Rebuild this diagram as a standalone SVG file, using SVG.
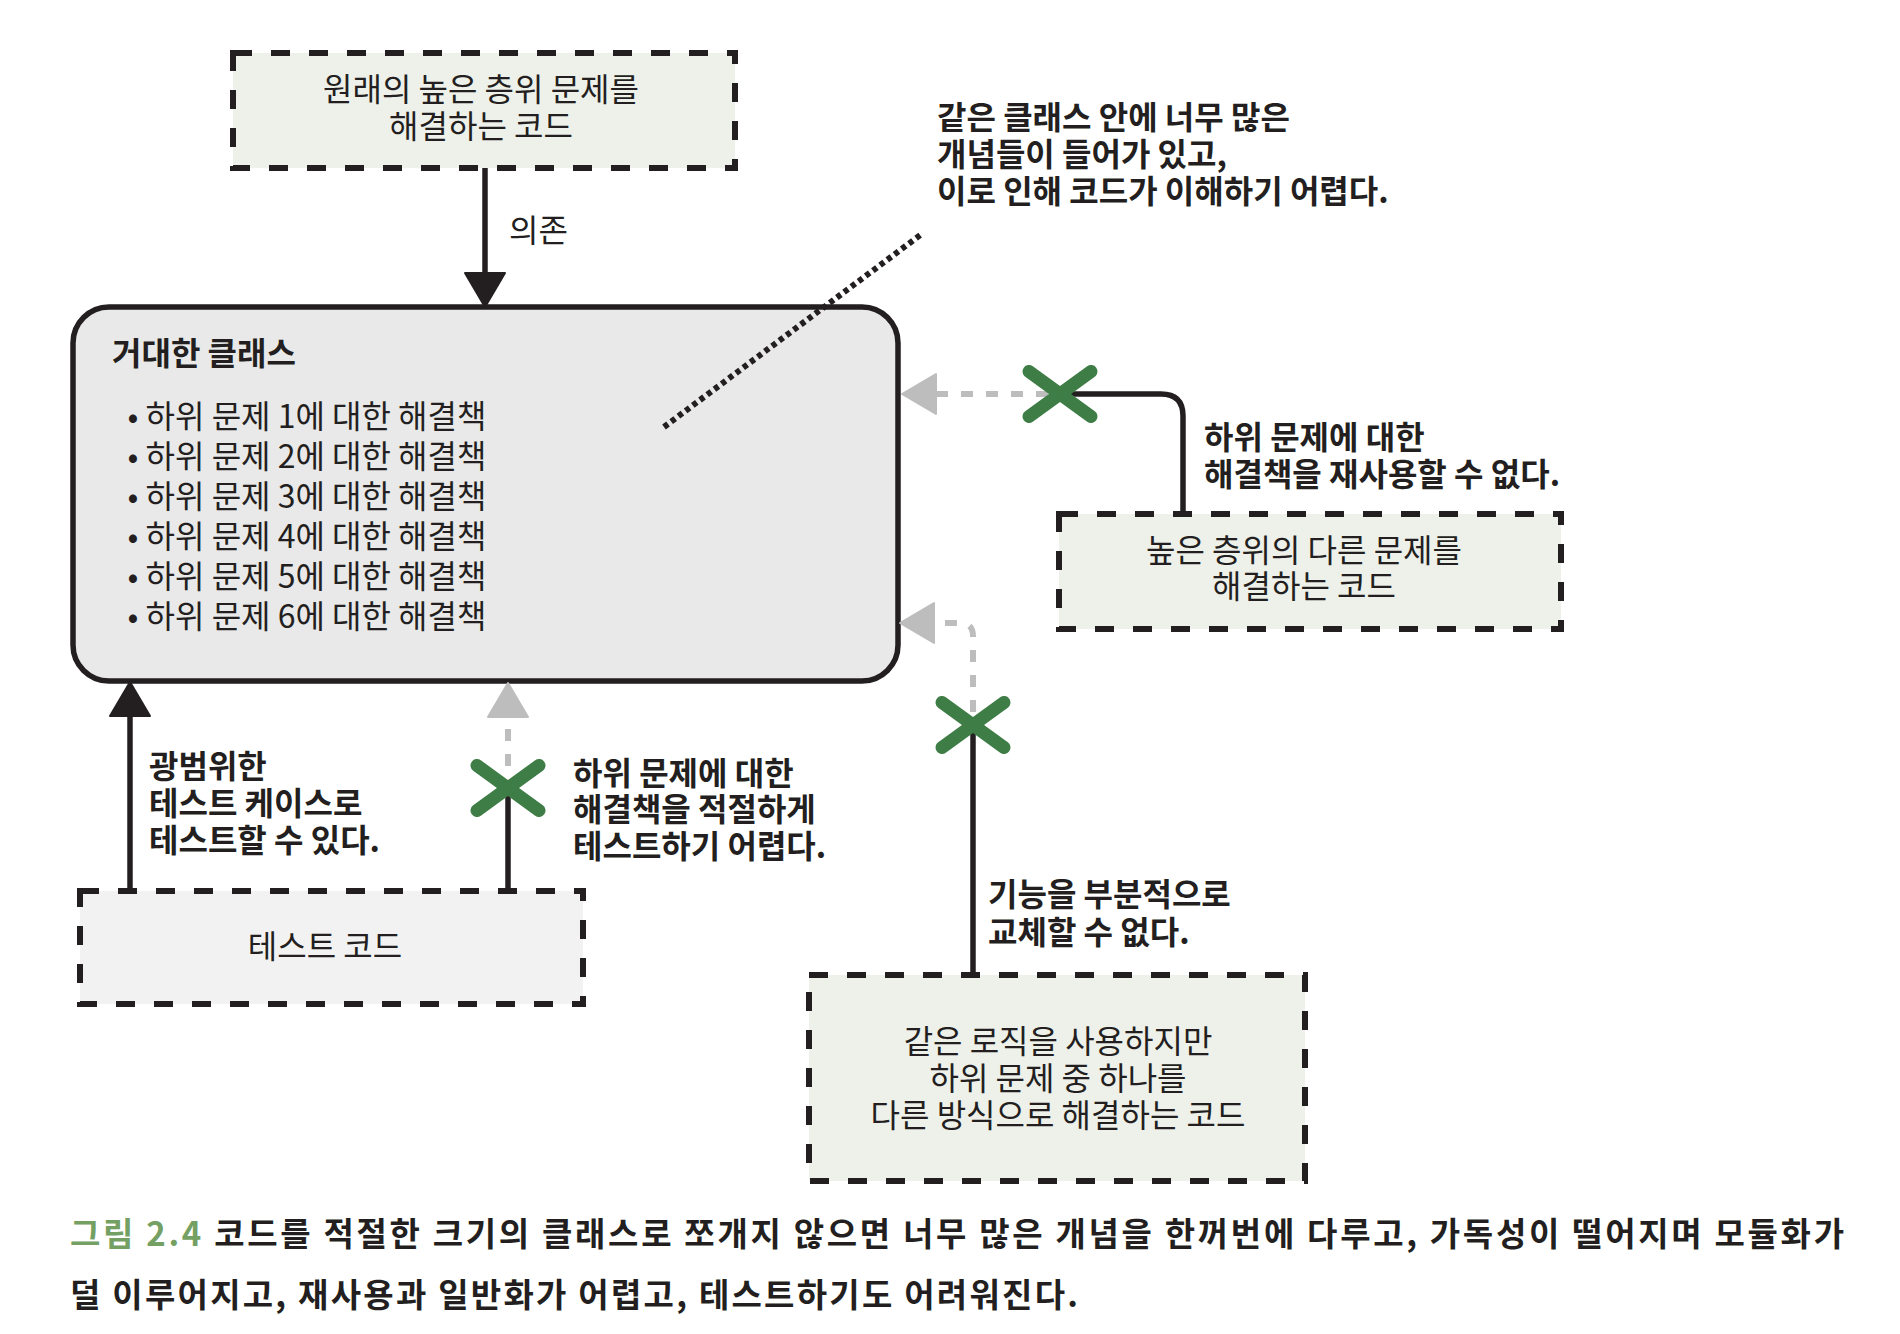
<svg xmlns="http://www.w3.org/2000/svg" xmlns:xlink="http://www.w3.org/1999/xlink" width="1900" height="1334" viewBox="0 0 1900 1334">
<style>
text{font-family:"Noto Sans CJK KR","Noto Sans",sans-serif;fill:#231f20}
.r{font-size:32px;font-weight:400}
.li{font-size:32px;font-weight:400}
.b{font-size:32px;font-weight:700}
.cap{font-size:33px;font-weight:700}
.mid{text-anchor:middle}
.dbox{stroke:#231f20;stroke-width:6;stroke-dasharray:19 19}
.g1{fill:#eef0ea}
.g2{fill:#f2f2f2}
.ln{fill:none;stroke:#231f20;stroke-width:5.5}
.gl{fill:none;stroke:#bdbdbd;stroke-width:6;stroke-dasharray:12 13}
.dot{fill:none;stroke:#231f20;stroke-width:6;stroke-dasharray:5 4}
</style>
<defs>
<marker id="ab" markerUnits="userSpaceOnUse" markerWidth="40" markerHeight="44" refX="0" refY="20" orient="auto" overflow="visible">
<path d="M0,0 L34,20 L0,40 Z" fill="#231f20" stroke="#231f20" stroke-width="2" stroke-linejoin="round"/>
</marker>
<marker id="ag" markerUnits="userSpaceOnUse" markerWidth="40" markerHeight="44" refX="0" refY="20" orient="auto" overflow="visible">
<path d="M0,0 L34,20 L0,40 Z" fill="#bdbdbd" stroke="#bdbdbd" stroke-width="2" stroke-linejoin="round"/>
</marker>
<g id="xm" stroke="#3e7d46" stroke-width="13" stroke-linecap="round">
<line x1="-31" y1="-22.5" x2="31" y2="22.5"/>
<line x1="-31" y1="22.5" x2="31" y2="-22.5"/>
</g>
</defs>
<rect width="1900" height="1334" fill="#ffffff"/>

<g id="node-top">
<rect class="dbox g1" x="233" y="53" width="502" height="115"/>
<text class="r mid"><tspan x="481" y="101">원래의 높은 층위 문제를</tspan><tspan x="481" y="138">해결하는 코드</tspan></text>
</g>

<g id="node-big">
<rect x="73" y="307" width="825" height="374" rx="36" fill="#e9e9e9" stroke="#231f20" stroke-width="5.5"/>
<text class="b" x="112" y="365">거대한 클래스</text>
<text class="li mid"><tspan x="307" y="428">• 하위 문제 1에 대한 해결책</tspan><tspan x="307" y="468">• 하위 문제 2에 대한 해결책</tspan><tspan x="307" y="508">• 하위 문제 3에 대한 해결책</tspan><tspan x="307" y="548">• 하위 문제 4에 대한 해결책</tspan><tspan x="307" y="588">• 하위 문제 5에 대한 해결책</tspan><tspan x="307" y="628">• 하위 문제 6에 대한 해결책</tspan></text>
</g>

<g id="node-other">
<rect class="dbox g1" x="1059" y="514" width="502" height="115"/>
<text class="r mid"><tspan x="1304" y="562">높은 층위의 다른 문제를</tspan><tspan x="1304" y="598">해결하는 코드</tspan></text>
</g>

<g id="node-test">
<rect class="dbox g2" x="80" y="891" width="503" height="113"/>
<text class="r mid" x="325" y="958">테스트 코드</text>
</g>

<g id="node-alt">
<rect class="dbox g1" x="809" y="975" width="496" height="206"/>
<text class="r mid"><tspan x="1058" y="1053">같은 로직을 사용하지만</tspan><tspan x="1058" y="1090">하위 문제 중 하나를</tspan><tspan x="1058" y="1127">다른 방식으로 해결하는 코드</tspan></text>
</g>

<g id="connectors">
<path class="ln" d="M485,168 V273" marker-end="url(#ab)"/>
<path class="dot" d="M664,427 L923,233"/>
<path class="ln" d="M1183,514 V416 Q1183,394 1161,394 H1060"/>
<path class="gl" d="M1048,394 H936" marker-end="url(#ag)"/>
<path class="ln" d="M973,975 V725"/>
<path class="gl" d="M973,712 V636 Q973,623 960,623 H934" marker-end="url(#ag)"/>
<path class="ln" d="M130,891 V716" marker-end="url(#ab)"/>
<path class="ln" d="M508,891 V788"/>
<path class="gl" d="M508,766 V717" marker-end="url(#ag)"/>
<use xlink:href="#xm" x="1060" y="394"/>
<use xlink:href="#xm" x="973" y="725"/>
<use xlink:href="#xm" x="508" y="788"/>
<text class="r" x="509" y="242">의존</text>
<text class="b"><tspan x="937" y="129">같은 클래스 안에 너무 많은</tspan><tspan x="937" y="166">개념들이 들어가 있고,</tspan><tspan x="937" y="203">이로 인해 코드가 이해하기 어렵다.</tspan></text>
<text class="b"><tspan x="1204" y="449">하위 문제에 대한</tspan><tspan x="1204" y="486">해결책을 재사용할 수 없다.</tspan></text>
<text class="b"><tspan x="149" y="778">광범위한</tspan><tspan x="149" y="815">테스트 케이스로</tspan><tspan x="149" y="852">테스트할 수 있다.</tspan></text>
<text class="b"><tspan x="573" y="785">하위 문제에 대한</tspan><tspan x="573" y="821">해결책을 적절하게</tspan><tspan x="573" y="858">테스트하기 어렵다.</tspan></text>
<text class="b"><tspan x="988" y="906">기능을 부분적으로</tspan><tspan x="988" y="944">교체할 수 없다.</tspan></text>
</g>

<g id="caption">
<text class="cap" x="70" y="1246" textLength="1774" lengthAdjust="spacing"><tspan style="fill:#74a063">그림 2.4</tspan> 코드를 적절한 크기의 클래스로 쪼개지 않으면 너무 많은 개념을 한꺼번에 다루고, 가독성이 떨어지며 모듈화가</text>
<text class="cap" x="70" y="1307" textLength="1008" lengthAdjust="spacing">덜 이루어지고, 재사용과 일반화가 어렵고, 테스트하기도 어려워진다.</text>
</g>
</svg>
